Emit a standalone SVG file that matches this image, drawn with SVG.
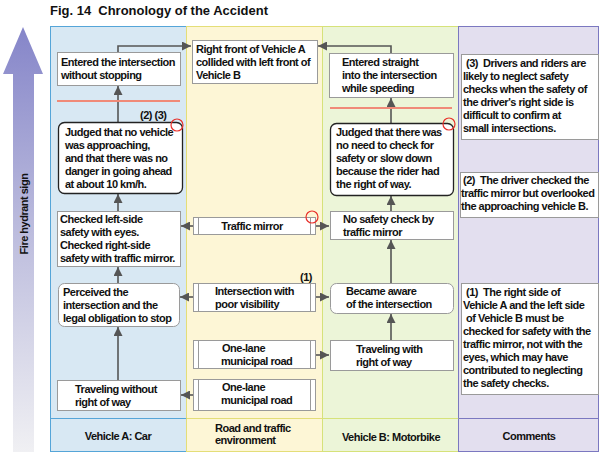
<svg xmlns="http://www.w3.org/2000/svg" width="602" height="456" viewBox="0 0 602 456">
<defs>
<linearGradient id="hg" x1="0" y1="0" x2="0" y2="1">
<stop offset="0" stop-color="#8585c9"/>
<stop offset="0.45" stop-color="#b9b9dc"/>
<stop offset="1" stop-color="#f0f0f3"/>
</linearGradient>
<marker id="ah" viewBox="0 0 10 10" refX="10" refY="5" markerWidth="9" markerHeight="9" markerUnits="userSpaceOnUse" orient="auto">
<path d="M0,0 L10,5 L0,10 Z" fill="#555"/>
</marker>
<style>
text{font-family:"Liberation Sans",Arial,sans-serif;font-weight:bold;font-size:11px;fill:#111;letter-spacing:-0.5px;white-space:pre}
.box{fill:#fff;stroke:#9a9a9a;stroke-width:1}
.rbox{fill:#fff;stroke:#222;stroke-width:1.3}
.gbox{fill:#fff;stroke:#9a9a9a;stroke-width:1}
.inner{stroke:#9a9a9a;stroke-width:1}
.con{fill:none;stroke:#555;stroke-width:1.6;marker-end:url(#ah)}
.red{stroke:#f08a78;stroke-width:2}
.circ{fill:none;stroke:#e8302a;stroke-width:1.2}
.mid{text-anchor:middle}
</style>
</defs>
<rect width="602" height="456" fill="#fff"/>
<text x="50" y="15" xml:space="preserve" style="font-size:13.5px;letter-spacing:0" textLength="218" lengthAdjust="spacingAndGlyphs">Fig. 14  Chronology of the Accident</text>

<g id="timeline-arrow">
<path d="M23,27 L43,74 L34,74 L34,452 L13,452 L13,74 L3,74 Z" fill="url(#hg)"/>
<text transform="translate(28,214) rotate(-90)" class="mid" style="font-size:11px">Fire hydrant sign</text>
</g>

<g id="columns">
<rect x="50.5" y="26.5" width="136" height="425" fill="#d8e8f3" stroke="#55a5d8"/>
<rect x="186.5" y="26.5" width="136" height="425" fill="#fdf6d6" stroke="#e4de78"/>
<rect x="322.5" y="26.5" width="136" height="425" fill="#ecf5d8" stroke="#d6e27a"/>
<rect x="458.5" y="26.5" width="140" height="425" fill="#e3dfef" stroke="#7b78c0"/>
<line x1="50.5" y1="418.5" x2="186.5" y2="418.5" stroke="#55a5d8"/>
<line x1="186.5" y1="418.5" x2="322.5" y2="418.5" stroke="#e4de78"/>
<line x1="322.5" y1="418.5" x2="458.5" y2="418.5" stroke="#d6e27a"/>
<line x1="458.5" y1="418.5" x2="598.5" y2="418.5" stroke="#7b78c0"/>
<text x="118" y="440" class="mid">Vehicle A: Car</text>
<text x="215" y="432">Road and traffic</text>
<text x="215" y="444">environment</text>
<text x="391" y="441" class="mid">Vehicle B: Motorbike</text>
<text x="529" y="440" class="mid">Comments</text>
</g>

<g id="connectors">
<path class="con" d="M118,380 V327"/>
<path class="con" d="M118,283 V267"/>
<path class="con" d="M118,211 V194"/>
<path class="con" d="M118,122 V86"/>
<path class="con" d="M118,52 V46 H191"/>
<path class="con" d="M391,340 V314"/>
<path class="con" d="M391,283 V240"/>
<path class="con" d="M391,212 V196"/>
<path class="con" d="M391,123 V98"/>
<path class="con" d="M391,53 V46 H318"/>
<path class="con" d="M193,226 H181"/>
<path class="con" d="M315,226 H329"/>
<path class="con" d="M193,297 H180"/>
<path class="con" d="M315,297 H329"/>
<path class="con" d="M315,355 H329"/>
<path class="con" d="M193,395 H181"/>
</g>

<g id="a-entered">
<rect class="box" x="57.5" y="52.5" width="123" height="33"/>
<text x="61" y="66">Entered the intersection</text>
<text x="61" y="79">without stopping</text>
</g>
<line id="a-redline" class="red" x1="57" y1="101" x2="180" y2="101"/>
<text id="a-note" x="140" y="119" xml:space="preserve">(2) (3)</text>
<g id="a-judged">
<rect class="rbox" x="58.5" y="122.5" width="124" height="71" rx="6"/>
<text x="65" y="136">Judged that no vehicle</text>
<text x="65" y="149">was approaching,</text>
<text x="65" y="162">and that there was no</text>
<text x="65" y="175">danger in going ahead</text>
<text x="65" y="188">at about 10 km/h.</text>
<circle class="circ" cx="177" cy="125" r="6"/>
</g>
<g id="a-checked">
<rect class="box" x="57.5" y="211.5" width="123" height="55"/>
<text x="60" y="223">Checked left-side</text>
<text x="60" y="236">safety with eyes.</text>
<text x="60" y="249">Checked right-side</text>
<text x="60" y="262">safety with traffic mirror.</text>
</g>
<g id="a-perceived">
<rect class="gbox" x="58.5" y="283.5" width="121" height="43" rx="6"/>
<text x="63" y="296">Perceived the</text>
<text x="63" y="309">intersection and the</text>
<text x="63" y="322">legal obligation to stop</text>
</g>
<g id="a-traveling">
<rect class="box" x="57.5" y="380.5" width="123" height="30"/>
<text x="75" y="393">Traveling without</text>
<text x="75" y="406">right of way</text>
</g>

<g id="r-collision">
<rect class="box" x="192.5" y="40.5" width="125" height="43"/>
<text x="196" y="53">Right front of Vehicle A</text>
<text x="196" y="66">collided with left front of</text>
<text x="196" y="79">Vehicle B</text>
</g>
<g id="r-mirror">
<rect class="box" x="193.5" y="217.5" width="122" height="17"/>
<line class="inner" x1="198.5" y1="217.5" x2="198.5" y2="234.5"/>
<line class="inner" x1="310.5" y1="217.5" x2="310.5" y2="234.5"/>
<text x="252" y="230" class="mid">Traffic mirror</text>
<circle class="circ" cx="312" cy="217" r="6"/>
</g>
<text id="r-note" x="300" y="281">(1)</text>
<g id="r-intersection">
<rect class="box" x="193.5" y="283.5" width="122" height="28"/>
<line class="inner" x1="198.5" y1="283.5" x2="198.5" y2="311.5"/>
<line class="inner" x1="310.5" y1="283.5" x2="310.5" y2="311.5"/>
<text x="215" y="295">Intersection with</text>
<text x="215" y="308">poor visibility</text>
</g>
<g id="r-road1">
<rect class="box" x="193.5" y="340.5" width="122" height="28"/>
<line class="inner" x1="198.5" y1="340.5" x2="198.5" y2="368.5"/>
<line class="inner" x1="310.5" y1="340.5" x2="310.5" y2="368.5"/>
<text x="222" y="352">One-lane</text>
<text x="221" y="365">municipal road</text>
</g>
<g id="r-road2">
<rect class="box" x="193.5" y="379.5" width="122" height="31"/>
<line class="inner" x1="198.5" y1="379.5" x2="198.5" y2="410.5"/>
<line class="inner" x1="310.5" y1="379.5" x2="310.5" y2="410.5"/>
<text x="222" y="391">One-lane</text>
<text x="221" y="404">municipal road</text>
</g>

<g id="b-entered">
<rect class="box" x="329.5" y="53.5" width="124" height="44"/>
<text x="342" y="66">Entered straight</text>
<text x="342" y="79">into the intersection</text>
<text x="342" y="92">while speeding</text>
</g>
<line id="b-redline" class="red" x1="330" y1="108" x2="452" y2="108"/>
<g id="b-judged">
<rect class="rbox" x="330.5" y="123.5" width="123" height="72" rx="6"/>
<text x="336" y="136">Judged that there was</text>
<text x="336" y="149">no need to check for</text>
<text x="336" y="162">safety or slow down</text>
<text x="336" y="175">because the rider had</text>
<text x="336" y="188">the right of way.</text>
<circle class="circ" cx="449" cy="124" r="6"/>
</g>
<g id="b-nocheck">
<rect class="box" x="330.5" y="211.5" width="123" height="28"/>
<text x="343" y="223">No safety check by</text>
<text x="343" y="236">traffic mirror</text>
</g>
<g id="b-aware">
<rect class="gbox" x="330.5" y="283.5" width="123" height="30" rx="6"/>
<text x="346" y="295">Became aware</text>
<text x="346" y="308">of the intersection</text>
</g>
<g id="b-traveling">
<rect class="box" x="330.5" y="340.5" width="123" height="30"/>
<text x="356" y="353">Traveling with</text>
<text x="356" y="366">right of way</text>
</g>

<g id="c-3">
<rect class="box" x="461.5" y="54.5" width="137" height="85"/>
<text x="466" y="67" xml:space="preserve">(3)  Drivers and riders are</text>
<text x="463" y="80">likely to neglect safety</text>
<text x="463" y="93">checks when the safety of</text>
<text x="463" y="106">the driver's right side is</text>
<text x="463" y="119">difficult to confirm at</text>
<text x="463" y="132">small intersections.</text>
</g>
<g id="c-2">
<rect class="box" x="460.5" y="172.5" width="138" height="45"/>
<text x="463" y="184" xml:space="preserve">(2)  The driver checked the</text>
<text x="461" y="197">traffic mirror but overlooked</text>
<text x="461" y="210">the approaching vehicle B.</text>
</g>
<g id="c-1">
<rect class="box" x="461.5" y="283.5" width="137" height="111"/>
<text x="466" y="296" xml:space="preserve">(1)  The right side of</text>
<text x="463" y="309">Vehicle A and the left side</text>
<text x="466" y="322">of Vehicle B must be</text>
<text x="463" y="335">checked for safety with the</text>
<text x="463" y="348">traffic mirror, not with the</text>
<text x="463" y="361">eyes, which may have</text>
<text x="463" y="374">contributed to neglecting</text>
<text x="463" y="387">the safety checks.</text>
</g>
</svg>
